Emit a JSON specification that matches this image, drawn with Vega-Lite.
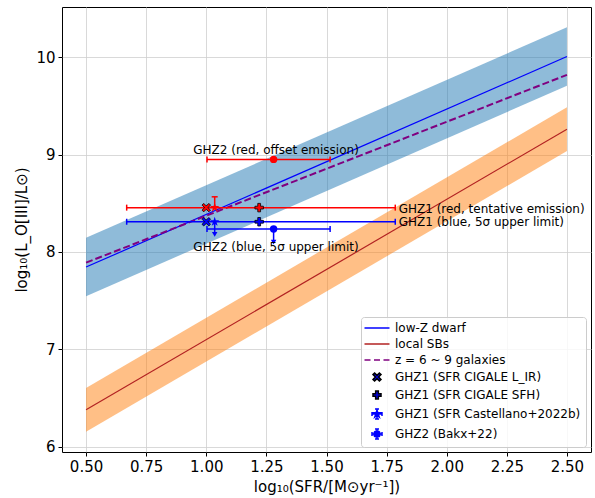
{
  "$schema": "https://vega.github.io/schema/vega-lite/v6.json",
  "autosize": {"type": "none"},
  "padding": {"left": 62, "top": 7, "right": 4, "bottom": 46},
  "width": 529,
  "height": 445,
  "background": "white",
  "datasets": {
    "bands": [
      {"model": "local SBs", "x": 0.5, "y": 6.38, "lo": 6.155, "hi": 6.605},
      {"model": "local SBs", "x": 2.5, "y": 9.26, "lo": 9.035, "hi": 9.485},
      {"model": "low-Z dwarf", "x": 0.5, "y": 7.845, "lo": 7.545, "hi": 8.145},
      {"model": "low-Z dwarf", "x": 2.5, "y": 10.006, "lo": 9.706, "hi": 10.306},
      {"model": "z = 6 ~ 9 galaxies", "x": 0.5, "y": 7.89},
      {"model": "z = 6 ~ 9 galaxies", "x": 2.5, "y": 9.818}
    ],
    "points": [
      {"series": "GHZ1 (SFR CIGALE L_IR)", "em": "red", "x": 1.0, "y": 8.455},
      {"series": "GHZ1 (SFR CIGALE L_IR)", "em": "blue", "x": 1.0, "y": 8.31},
      {"series": "GHZ1 (SFR CIGALE SFH)", "em": "red", "x": 1.22, "y": 8.455},
      {"series": "GHZ1 (SFR CIGALE SFH)", "em": "blue", "x": 1.22, "y": 8.31},
      {"series": "GHZ1 (SFR Castellano+2022b)", "em": "red", "x": 1.035, "y": 8.455},
      {"series": "GHZ1 (SFR Castellano+2022b)", "em": "blue", "x": 1.035, "y": 8.31},
      {"series": "GHZ2 (Bakx+22)", "em": "red", "x": 1.28, "y": 8.95},
      {"series": "GHZ2 (Bakx+22)", "em": "blue", "x": 1.28, "y": 8.235}
    ],
    "xerr": [
      {"em": "red", "y": 8.455, "lo": 0.669, "hi": 1.786},
      {"em": "blue", "y": 8.31, "lo": 0.669, "hi": 1.786},
      {"em": "red", "y": 8.95, "lo": 1.003, "hi": 1.515},
      {"em": "blue", "y": 8.235, "lo": 1.003, "hi": 1.515}
    ],
    "yerr": [
      {"em": "red", "x": 1.035, "y": 8.455, "end": 8.566, "kind": "cap"},
      {"em": "blue", "x": 1.035, "y": 8.31, "end": 8.18, "kind": "arrow"},
      {"em": "blue", "x": 1.28, "y": 8.235, "end": 8.1, "kind": "arrow"}
    ],
    "labels": [
      {"text": "GHZ2 (red, offset emission)", "x": 1.29, "y": 9.045, "pos": "center"},
      {"text": "GHZ2 (blue, 5σ upper limit)", "x": 1.29, "y": 8.05, "pos": "center"},
      {"text": "GHZ1 (red, tentative emission)", "x": 1.8, "y": 8.445, "pos": "left"},
      {"text": "GHZ1 (blue, 5σ upper limit)", "x": 1.8, "y": 8.305, "pos": "left"}
    ]
  },
  "encoding": {
    "x": {"type": "quantitative"},
    "y": {"type": "quantitative"}
  },
  "layer": [
    {
      "data": {"name": "bands"},
      "transform": [{"filter": "datum.model === 'local SBs'"}],
      "mark": {"type": "area", "color": "#ff7f0e", "opacity": 0.5},
      "encoding": {
        "x": {"field": "x", "type": "quantitative", "scale": {"domain": [0.4, 2.6], "nice": false, "zero": false},
          "axis": {"values": [0.5, 0.75, 1.0, 1.25, 1.5, 1.75, 2.0, 2.25, 2.5], "format": ".2f", "title": "log₁₀(SFR/[M⊙yr⁻¹])"}},
        "y": {"field": "lo", "type": "quantitative", "scale": {"domain": [5.947, 10.514], "nice": false, "zero": false},
          "axis": {"values": [6, 7, 8, 9, 10], "format": "d", "title": "log₁₀(L_O[III]/L⊙)"}},
        "y2": {"field": "hi"}
      }
    },
    {
      "data": {"name": "bands"},
      "transform": [{"filter": "datum.model === 'low-Z dwarf'"}],
      "mark": {"type": "area", "color": "#1f77b4", "opacity": 0.5},
      "encoding": {
        "x": {"field": "x", "type": "quantitative"},
        "y": {"field": "lo", "type": "quantitative"},
        "y2": {"field": "hi"}
      }
    },
    {
      "data": {"name": "bands"},
      "transform": [{"filter": "datum.model === 'low-Z dwarf'"}],
      "mark": {"type": "line", "color": "#0000ff", "strokeWidth": 1.2},
      "encoding": {"x": {"field": "x", "type": "quantitative"}, "y": {"field": "y", "type": "quantitative"}}
    },
    {
      "data": {"name": "bands"},
      "transform": [{"filter": "datum.model === 'local SBs'"}],
      "mark": {"type": "line", "color": "#b22222", "strokeWidth": 1.2},
      "encoding": {"x": {"field": "x", "type": "quantitative"}, "y": {"field": "y", "type": "quantitative"}}
    },
    {
      "data": {"name": "bands"},
      "transform": [{"filter": "datum.model === 'z = 6 ~ 9 galaxies'"}],
      "mark": {"type": "line", "color": "#800080", "strokeWidth": 2, "strokeDash": [7, 3]},
      "encoding": {"x": {"field": "x", "type": "quantitative"}, "y": {"field": "y", "type": "quantitative"}}
    },
    {
      "data": {"name": "xerr"},
      "mark": {"type": "rule", "strokeWidth": 1.5},
      "encoding": {
        "x": {"field": "lo", "type": "quantitative"},
        "x2": {"field": "hi"},
        "y": {"field": "y", "type": "quantitative"},
        "color": {"field": "em", "type": "nominal", "scale": {"domain": ["red", "blue"], "range": ["#ff0000", "#0000ff"]}, "legend": null}
      }
    },
    {
      "data": {"name": "xerr"},
      "mark": {"type": "point", "shape": "M0,-1V1", "filled": false, "size": 36, "strokeWidth": 1.5, "opacity": 1},
      "encoding": {
        "x": {"field": "lo", "type": "quantitative"},
        "y": {"field": "y", "type": "quantitative"},
        "color": {"field": "em", "type": "nominal", "legend": null}
      }
    },
    {
      "data": {"name": "xerr"},
      "mark": {"type": "point", "shape": "M0,-1V1", "filled": false, "size": 36, "strokeWidth": 1.5, "opacity": 1},
      "encoding": {
        "x": {"field": "hi", "type": "quantitative"},
        "y": {"field": "y", "type": "quantitative"},
        "color": {"field": "em", "type": "nominal", "legend": null}
      }
    },
    {
      "data": {"name": "yerr"},
      "mark": {"type": "rule", "strokeWidth": 1.5},
      "encoding": {
        "x": {"field": "x", "type": "quantitative"},
        "y": {"field": "y", "type": "quantitative"},
        "y2": {"field": "end"},
        "color": {"field": "em", "type": "nominal", "legend": null}
      }
    },
    {
      "data": {"name": "yerr"},
      "transform": [{"filter": "datum.kind === 'cap'"}],
      "mark": {"type": "point", "shape": "M-1,0H1", "filled": false, "size": 36, "strokeWidth": 1.5, "opacity": 1},
      "encoding": {
        "x": {"field": "x", "type": "quantitative"},
        "y": {"field": "end", "type": "quantitative"},
        "color": {"field": "em", "type": "nominal", "legend": null}
      }
    },
    {
      "data": {"name": "yerr"},
      "transform": [{"filter": "datum.kind === 'arrow'"}],
      "mark": {"type": "point", "shape": "triangle-down", "filled": true, "size": 30, "opacity": 1},
      "encoding": {
        "x": {"field": "x", "type": "quantitative"},
        "y": {"field": "end", "type": "quantitative"},
        "color": {"field": "em", "type": "nominal", "legend": null}
      }
    },
    {
      "data": {"name": "points"},
      "transform": [{"filter": "datum.series === 'GHZ1 (SFR CIGALE L_IR)'"}],
      "mark": {"type": "point", "filled": true, "size": 72, "stroke": "#000000", "strokeWidth": 0.8, "opacity": 1,
        "shape": "M-0.6,-1L0,-0.4L0.6,-1L1,-0.6L0.4,0L1,0.6L0.6,1L0,0.4L-0.6,1L-1,0.6L-0.4,0L-1,-0.6Z"},
      "encoding": {
        "x": {"field": "x", "type": "quantitative"},
        "y": {"field": "y", "type": "quantitative"},
        "color": {"field": "em", "type": "nominal", "legend": null}
      }
    },
    {
      "data": {"name": "points"},
      "transform": [{"filter": "datum.series === 'GHZ1 (SFR CIGALE SFH)'"}],
      "mark": {"type": "point", "filled": true, "size": 72, "stroke": "#000000", "strokeWidth": 0.8, "opacity": 1,
        "shape": "M-0.33,-1H0.33V-0.33H1V0.33H0.33V1H-0.33V0.33H-1V-0.33H-0.33Z"},
      "encoding": {
        "x": {"field": "x", "type": "quantitative"},
        "y": {"field": "y", "type": "quantitative"},
        "color": {"field": "em", "type": "nominal", "legend": null}
      }
    },
    {
      "data": {"name": "points"},
      "transform": [{"filter": "datum.series === 'GHZ1 (SFR Castellano+2022b)'"}],
      "mark": {"type": "point", "filled": true, "size": 100, "opacity": 1,
        "shape": "M0,-1L0.225,-0.309L0.951,-0.309L0.363,0.118L0.588,0.809L0,0.382L-0.588,0.809L-0.363,0.118L-0.951,-0.309L-0.225,-0.309Z"},
      "encoding": {
        "x": {"field": "x", "type": "quantitative"},
        "y": {"field": "y", "type": "quantitative"},
        "color": {"field": "em", "type": "nominal", "legend": null}
      }
    },
    {
      "data": {"name": "points"},
      "transform": [{"filter": "datum.series === 'GHZ2 (Bakx+22)'"}],
      "mark": {"type": "point", "filled": true, "size": 55, "opacity": 1, "shape": "circle"},
      "encoding": {
        "x": {"field": "x", "type": "quantitative"},
        "y": {"field": "y", "type": "quantitative"},
        "color": {"field": "em", "type": "nominal", "legend": null}
      }
    },
    {
      "data": {"name": "points"},
      "mark": {"type": "point", "filled": true, "size": 100, "opacity": 0},
      "encoding": {
        "x": {"field": "x", "type": "quantitative"},
        "y": {"field": "y", "type": "quantitative"},
        "shape": {
          "field": "series", "type": "nominal",
          "scale": {
            "domain": ["low-Z dwarf", "local SBs", "z = 6 ~ 9 galaxies", "GHZ1 (SFR CIGALE L_IR)", "GHZ1 (SFR CIGALE SFH)", "GHZ1 (SFR Castellano+2022b)", "GHZ2 (Bakx+22)"],
            "range": ["M-2.5,0H2.5", "M-2.5,0H2.5", "M-2.5,0H-1.3M-0.6,0H0.6M1.3,0H2.5",
              "M-0.48,-0.8L0,-0.32L0.48,-0.8L0.8,-0.48L0.32,0L0.8,0.48L0.48,0.8L0,0.32L-0.48,0.8L-0.8,0.48L-0.32,0L-0.8,-0.48Z",
              "M-0.27,-0.8H0.27V-0.27H0.8V0.27H0.27V0.8H-0.27V0.27H-0.8V-0.27H-0.27Z",
              "M0,-0.75L0.168,-0.232L0.713,-0.232L0.272,0.088L0.441,0.607L0,0.287L-0.441,0.607L-0.272,0.088L-0.713,-0.232L-0.168,-0.232ZM0,-1V1M-1,0H1M-0.4,-1H0.4M-0.4,1H0.4M-1,-0.4V0.4M1,-0.4V0.4",
              "M0.62,0A0.62,0.62,0,1,1,-0.62,0A0.62,0.62,0,1,1,0.62,0ZM0,-1V1M-1,0H1M-0.4,-1H0.4M-0.4,1H0.4M-1,-0.4V0.4M1,-0.4V0.4"]
          },
          "legend": {
            "title": null,
            "orient": "bottom-right",
            "offset": 5,
            "padding": 5,
            "symbolOffset": 5,
            "labelOffset": 12,
            "rowPadding": 4,
            "symbolSize": 100,
            "symbolOpacity": 1,
            "labelLimit": 300,
            "labelFont": "DejaVu Sans",
            "labelFontSize": 12,
            "labelColor": "#000000",
            "strokeColor": "#cccccc",
            "fillColor": "rgba(255,255,255,0.8)",
            "cornerRadius": 3
          }
        },
        "fill": {
          "field": "series", "type": "nominal",
          "scale": {
            "domain": ["low-Z dwarf", "local SBs", "z = 6 ~ 9 galaxies", "GHZ1 (SFR CIGALE L_IR)", "GHZ1 (SFR CIGALE SFH)", "GHZ1 (SFR Castellano+2022b)", "GHZ2 (Bakx+22)"],
            "range": ["transparent", "transparent", "transparent", "#0000ff", "#0000ff", "#0000ff", "#0000ff"]
          },
          "legend": {"title": null}
        },
        "stroke": {
          "field": "series", "type": "nominal",
          "scale": {
            "domain": ["low-Z dwarf", "local SBs", "z = 6 ~ 9 galaxies", "GHZ1 (SFR CIGALE L_IR)", "GHZ1 (SFR CIGALE SFH)", "GHZ1 (SFR Castellano+2022b)", "GHZ2 (Bakx+22)"],
            "range": ["#0000ff", "#b22222", "#800080", "#000000", "#000000", "#0000ff", "#0000ff"]
          },
          "legend": {"title": null}
        },
        "strokeWidth": {
          "field": "series", "type": "ordinal",
          "scale": {
            "domain": ["low-Z dwarf", "local SBs", "z = 6 ~ 9 galaxies", "GHZ1 (SFR CIGALE L_IR)", "GHZ1 (SFR CIGALE SFH)", "GHZ1 (SFR Castellano+2022b)", "GHZ2 (Bakx+22)"],
            "range": [1.5, 1.5, 2, 0.8, 0.8, 1.5, 1.5]
          },
          "legend": {"title": null}
        }
      }
    },
    {
      "data": {"name": "labels"},
      "transform": [{"filter": "datum.pos === 'center'"}],
      "mark": {"type": "text", "align": "center", "baseline": "middle", "font": "DejaVu Sans", "fontSize": 12, "color": "#000000"},
      "encoding": {
        "x": {"field": "x", "type": "quantitative"},
        "y": {"field": "y", "type": "quantitative"},
        "text": {"field": "text"}
      }
    },
    {
      "data": {"name": "labels"},
      "transform": [{"filter": "datum.pos === 'left'"}],
      "mark": {"type": "text", "align": "left", "baseline": "middle", "font": "DejaVu Sans", "fontSize": 12, "color": "#000000"},
      "encoding": {
        "x": {"field": "x", "type": "quantitative"},
        "y": {"field": "y", "type": "quantitative"},
        "text": {"field": "text"}
      }
    }
  ],
  "config": {
    "font": "DejaVu Sans",
    "view": {"stroke": "#000000", "strokeWidth": 1},
    "axis": {
      "domain": false,
      "grid": true,
      "gridColor": "#cfcfcf",
      "gridWidth": 0.8,
      "tickColor": "#000000",
      "tickSize": 4,
      "labelFont": "DejaVu Sans",
      "labelFontSize": 15,
      "labelColor": "#000000",
      "labelPadding": 3,
      "titleFont": "DejaVu Sans",
      "titleFontSize": 15,
      "titleFontWeight": "normal",
      "titleColor": "#000000"
    },
    "axisX": {"titlePadding": 5, "labelFlush": false},
    "axisY": {"titlePadding": 6, "labelFlush": false}
  }
}
